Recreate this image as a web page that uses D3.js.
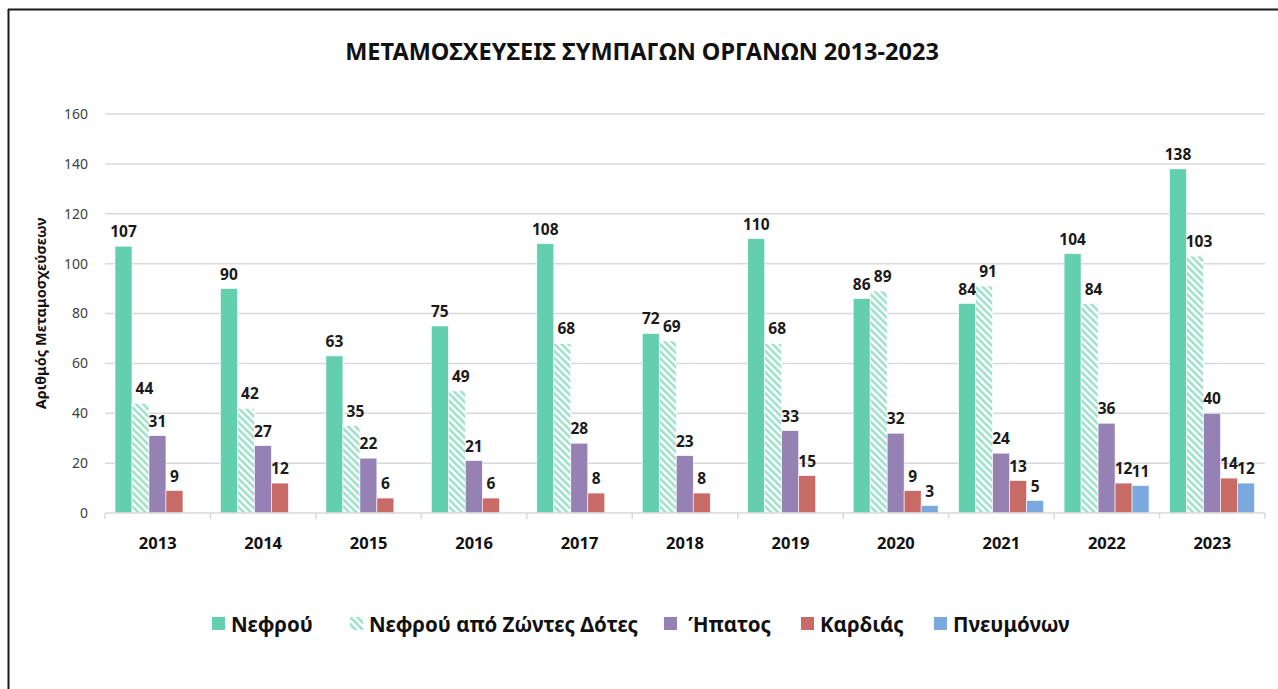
<!DOCTYPE html>
<html>
<head>
<meta charset="utf-8">
<script src="https://cdn.jsdelivr.net/npm/d3@7"></script>
<style>
  body { margin: 0; background: #fff; }
  svg text { font-family: "Noto Sans", "Open Sans", sans-serif; }
</style>
</head>
<body>
<script>
// chart data
const years = ["2013","2014","2015","2016","2017","2018","2019","2020","2021","2022","2023"];
const seriesNames = ["Νεφρού", "Νεφρού από Ζώντες Δότες", " Ήπατος", "Καρδιάς", "Πνευμόνων"];
const kidney     = [107, 90, 63, 75, 108, 72, 110, 86, 84, 104, 138];
const kidneyLive = [44, 42, 35, 49, 68, 69, 68, 89, 91, 84, 103];
const liver      = [31, 27, 22, 21, 28, 23, 33, 32, 24, 36, 40];
const heart      = [9, 12, 6, 6, 8, 8, 15, 9, 13, 12, 14];
const lungs      = [0, 0, 0, 0, 0, 0, 0, 3, 5, 11, 12];
const yTicks     = [0, 20, 40, 60, 80, 100, 120, 140, 160];

const colors = ["#63cfae", "url(#hatch)", "#9581b3", "#c86a66", "#7ba8de"];
const allSeries = [kidney, kidneyLive, liver, heart, lungs];

const W = 1278, H = 689;
const plot = {left: 105, right: 1265, top: 114, bottom: 513};

const svg = d3.select("body").append("svg")
    .attr("width", W)
    .attr("height", H);

// hatch pattern for living donors
const defs = svg.append("defs");
const pat = defs.append("pattern")
    .attr("id", "hatch")
    .attr("patternUnits", "userSpaceOnUse")
    .attr("width", 5)
    .attr("height", 5)
    .attr("patternTransform", "rotate(-45)");
pat.append("rect").attr("width", 5).attr("height", 5).attr("fill", "#ffffff");
pat.append("rect").attr("width", 2.6).attr("height", 5).attr("fill", "#9fe0ca");

// frame
svg.append("line").attr("x1", 8).attr("x2", W).attr("y1", 9.5).attr("y2", 9.5)
    .attr("stroke", "#1a1a1a").attr("stroke-width", 2);
svg.append("line").attr("x1", 8.5).attr("x2", 8.5).attr("y1", 9).attr("y2", H)
    .attr("stroke", "#1a1a1a").attr("stroke-width", 2);

// title
svg.append("text")
    .attr("x", 642).attr("y", 60)
    .attr("text-anchor", "middle")
    .attr("font-size", 23.5)
    .attr("font-weight", "bold")
    .attr("fill", "#111")
    .text("ΜΕΤΑΜΟΣΧΕΥΣΕΙΣ ΣΥΜΠΑΓΩΝ ΟΡΓΑΝΩΝ 2013-2023");

const x = d3.scaleBand().domain(years).range([plot.left, plot.right]);
const x1 = d3.scaleBand().domain(d3.range(5)).range([10, x.bandwidth() - 10.5]);
const y = d3.scaleLinear().domain([0, 160]).range([plot.bottom, plot.top]);

// gridlines
svg.append("g")
    .selectAll("line")
    .data(yTicks.filter(t => t > 0))
    .enter()
    .append("line")
    .attr("x1", plot.left).attr("x2", plot.right)
    .attr("y1", d => y(d)).attr("y2", d => y(d))
    .attr("stroke", "#d9d9d9").attr("stroke-width", 1.5);

// y axis labels
const yAxis = d3.axisLeft(y).tickValues(yTicks).tickSize(0).tickPadding(17);
const yg = svg.append("g")
    .attr("transform", "translate(" + plot.left + ",0)")
    .call(yAxis);
yg.select(".domain").remove();
yg.selectAll("text")
    .attr("font-size", 14)
    .attr("fill", "#404040");

// y title
svg.append("text")
    .attr("transform", "translate(46," + ((plot.top + plot.bottom) / 2) + ") rotate(-90)")
    .attr("text-anchor", "middle")
    .attr("font-size", 14.5)
    .attr("font-weight", "bold")
    .attr("fill", "#111")
    .text("Αριθμός Μεταμοσχεύσεων");

// bars
const groups = svg.append("g")
    .selectAll("g")
    .data(years)
    .enter()
    .append("g")
    .attr("transform", d => "translate(" + x(d) + ",0)");

groups.selectAll("rect")
    .data((d, i) => allSeries.map((s, k) => ({k: k, v: s[i]})))
    .enter()
    .append("rect")
    .attr("x", d => x1(d.k))
    .attr("width", x1.bandwidth())
    .attr("y", d => y(d.v))
    .attr("height", d => y(0) - y(d.v))
    .attr("fill", d => colors[d.k])
    .attr("stroke", "#ffffff")
    .attr("stroke-width", 0.6);

groups.selectAll("text.lbl")
    .data((d, i) => allSeries.map((s, k) => ({k: k, v: s[i]})).filter(d => d.v > 0))
    .enter()
    .append("text")
    .attr("class", "lbl")
    .attr("x", d => x1(d.k) + x1.bandwidth() / 2 + (d.k === 1 ? 4 : 0))
    .attr("y", d => y(d.v) - 9)
    .attr("text-anchor", "middle")
    .attr("font-size", 15.5)
    .attr("font-weight", "bold")
    .attr("fill", "#1a1a1a")
    .text(d => d.v);

// x axis
const xg = svg.append("g")
    .attr("transform", "translate(0," + plot.bottom + ")");
xg.append("line")
    .attr("x1", plot.left).attr("x2", plot.right)
    .attr("stroke", "#d9d9d9").attr("stroke-width", 1.5);
xg.selectAll("line.tk")
    .data(years.concat(["end"]))
    .enter()
    .append("line")
    .attr("class", "tk")
    .attr("x1", (d, i) => plot.left + i * x.bandwidth())
    .attr("x2", (d, i) => plot.left + i * x.bandwidth())
    .attr("y1", 0).attr("y2", 6)
    .attr("stroke", "#d9d9d9").attr("stroke-width", 1.5);
xg.selectAll("text")
    .data(years)
    .enter()
    .append("text")
    .attr("x", d => x(d) + x.bandwidth() / 2)
    .attr("y", 36)
    .attr("text-anchor", "middle")
    .attr("font-size", 16.5)
    .attr("font-weight", "bold")
    .attr("fill", "#111")
    .text(d => d);

// legend
const legendX = [212, 350, 664, 801, 934];
const legend = svg.append("g");
seriesNames.forEach((name, k) => {
    legend.append("rect")
        .attr("x", legendX[k]).attr("y", 617)
        .attr("width", 13).attr("height", 13)
        .attr("fill", colors[k]);
    legend.append("text")
        .attr("x", legendX[k] + 19).attr("y", 632)
        .attr("font-size", 20.5)
        .attr("font-weight", "bold")
        .attr("fill", "#111")
        .attr("xml:space", "preserve")
        .style("white-space", "pre")
        .text(name);
});
</script>
</body>
</html>
